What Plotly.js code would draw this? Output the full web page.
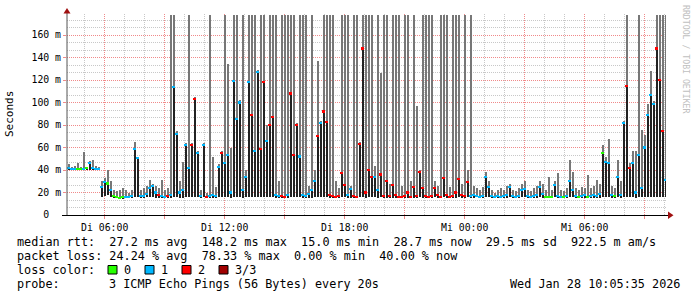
<!DOCTYPE html>
<html><head><meta charset="utf-8">
<script src="https://cdn.plot.ly/plotly-3.0.1.min.js"></script>
<style>html,body{margin:0;padding:0;background:#fff;overflow:hidden}#chart{width:697px;height:297px}</style>
</head><body><div id="chart"></div>
<script>
// loss legend
const lossLabels = ['0', '1', '2', '3/3'];
const lossColors = ['#26ff00', '#00b8ff', '#ff0000', '#a00000'];

// per-column ping values in ms (one column ≈ 9 min, starting Di 04:07)
const pingLow = [
40,40,40,40,40,40,40,40,40,40, 40,16,17,18,16,15,15,14,14,15,
15,15,16,16,15,15,16,16,16,15, 15,15,15,15,15,16,16,15,15,16,
16,16,16,16,15,16,15,15,15,15, 16,16,16,16,15,16,16,16,15,16,
16,16,16,16,16,16,16,16,16,15, 15,15,15,15,16,16,16,16,15,15,
15,15,16,16,16,16,16,15,15,15, 15,16,16,15,15,15,15,16,16,15,
16,16,16,15,16,15,15,15,15,15, 15,15,15,15,15,15,15,16,15,15,
15,15,16,15,15,16,15,15,15,15, 16,15,15,16,15,15,16,15,15,16,
16,15,15,15,15,15,15,16,15,15, 15,16,16,15,15,15,15,16,15,15,
15,15,16,15,15,15,15,16,16,15, 15,15,15,15,15,15,15,15,16,16,
16,15,15,16,15,16,16,16,16,15, 16,16,16,16,16,16,16,16,16,16
];
const pingMedian = [
42,41,41,41,41,41,42,46,42,41, 41,25,29,28,22,17,16,15,16,16,
16,17,59,51,17,17,19,24,26,20, 18,17,16,17,18,114,72,20,22,62,
42,62,103,55,17,62,16,17,18,17, 43,55,46,53,20,119,85,100,22,34,
118,89,57,127,59,118,66,80,87,18, 17,17,16,18,108,53,80,52,18,17,
19,22,30,70,82,92,83,18,17,16, 17,37,27,18,23,17,16,63,148,20,
40,34,34,22,36,17,30,17,27,18, 16,16,17,20,16,25,17,38,24,17,
16,17,24,18,16,33,18,16,17,20, 32,18,17,29,17,18,17,16,17,34,
25,17,16,17,16,17,18,25,17,16, 17,22,23,17,16,17,18,25,19,16,
16,16,27,17,16,16,17,30,22,17, 16,17,18,16,17,18,17,19,55,47,
46,18,17,34,18,82,115,42,46,20, 53,24,60,89,107,99,148,120,75,31
];
const pingHigh = [
45,43,44,46,43,56,43,48,49,44, 43,30,33,40,30,22,21,22,24,22,
20,22,65,52,22,24,26,31,28,26, 24,31,22,24,178,178,75,30,47,64,
178,64,105,57,22,64,20,178,52,25, 45,57,178,134,60,178,178,102,178,40,
178,178,178,129,178,178,80,178,178,178, 30,178,178,178,178,178,82,178,178,178,
26,178,40,137,84,178,178,178,178,30, 24,178,178,178,26,178,178,65,178,178,
178,178,44,178,126,178,178,28,178,178, 178,26,178,178,30,178,97,40,178,178,
178,178,30,26,178,178,178,25,178,178, 178,28,178,40,178,26,24,22,25,38,
30,22,20,22,24,22,26,28,22,21, 24,28,30,22,21,24,26,30,28,22,
34,22,30,37,22,21,24,49,38,24, 22,25,24,36,24,26,31,28,62,52,
68,26,24,49,30,84,178,46,57,57, 178,76,71,99,128,101,178,178,178,178
];
const pingLoss = [
1,1,1,0,0,1,0,1,1,1, 1,1,1,0,1,0,0,0,0,1,
1,1,1,1,1,1,1,1,1,1, 2,1,1,2,1,1,1,1,1,1,
1,2,2,1,1,1,2,1,1,1, 1,2,1,1,1,1,1,1,1,1,
1,2,1,1,2,2,1,2,2,1, 1,2,2,1,2,2,2,1,1,1,
1,1,1,2,1,2,2,2,2,2, 2,2,2,1,1,2,2,2,2,2,
2,2,1,1,2,2,2,2,2,2, 2,2,2,2,2,2,2,2,2,2,
2,2,2,2,2,2,2,2,2,2, 2,2,2,2,1,1,1,1,1,1,
1,1,1,1,1,1,1,1,1,1, 1,1,1,1,1,1,1,1,1,0,
0,0,1,1,1,0,1,1,1,1, 0,1,1,0,1,1,1,1,0,1,
1,1,0,1,1,1,2,2,1,1, 1,1,1,1,1,1,2,2,2,1
];

// time axis (hours since Di 00:00)
const startHour = 4.115;
const stepHours = 0.15;
const endHour = 34.065;
const xTickHours = [6, 9, 12, 15, 18, 21, 24, 27, 30, 33];
const xTickLabels = ['Di 06:00', '', 'Di 12:00', '', 'Di 18:00', '', 'Mi 00:00', '', 'Mi 06:00', ''];
const yTickValues = [0, 20, 40, 60, 80, 100, 120, 140, 160];
const yTickLabels = ['0  ', '20 m', '40 m', '60 m', '80 m', '100 m', '120 m', '140 m', '160 m'];
const yMax = 178.667;

// legend texts
const statsRtt = 'median rtt:  27.2 ms avg  148.2 ms max  15.0 ms min  28.7 ms now  29.5 ms sd  922.5 m am/s';
const statsLoss = 'packet loss: 24.24 % avg  78.33 % max  0.00 % min  40.00 % now';
const lossTitle = 'loss color:';
const probeLabel = 'probe:';
const probeText = '3 ICMP Echo Pings (56 Bytes) every 20s';
const stampText = 'Wed Jan 28 10:05:35 2026';

const nb = s => s.replace(/ /g, '\u00a0');
const W = 697, H = 297, L = 67, R = 666, T = 14, B = 215;
const px = X => (X - L) / (R - L);
const py = Y => (B - Y) / (B - T);

// column centres, nudged a quarter pixel so 2 px bars land on whole pixels
const hoursPerPx = (endHour - startHour) / (R - L);
const xs = pingMedian.map((_, i) => startHour + (i + 0.5) * stepHours + 0.25 * hoursPerPx);
const mono = 'DejaVu Sans Mono, monospace';
const barW = 2 * hoursPerPx;

const smoke = {
  type: 'bar', x: xs, base: pingLow, y: pingHigh.map((h, i) => h - pingLow[i]),
  width: barW, marker: {color: '#777777', line: {width: 0}}, hoverinfo: 'skip'
};
const dark = {
  type: 'bar', x: xs, base: pingLow, y: pingMedian.map((m, i) => m - pingLow[i]),
  width: barW, marker: {color: '#222222', line: {width: 0}}, hoverinfo: 'skip'
};
const med = {
  type: 'bar', x: xs, base: pingMedian.map(m => m - 0.9), y: pingMedian.map(() => 1.8),
  width: stepHours, marker: {color: pingLoss.map(l => lossColors[l]), line: {width: 0}}, hoverinfo: 'skip'
};

const ann = [];
const txt = (X, Y, s, o) => ann.push(Object.assign({
  xref: 'paper', yref: 'paper', x: px(X), y: py(Y), text: nb(s), showarrow: false,
  xanchor: 'left', yanchor: 'middle', borderpad: 0,
  font: {family: mono, size: 11.8, color: '#000'}
}, o || {}));
txt(16, 241.5, statsRtt);
txt(16, 255.5, statsLoss);
txt(16, 269.5, lossTitle);
txt(16, 283.5, probeLabel);
txt(108, 283.5, probeText);
txt(681, 283.5, stampText, {xanchor: 'right'});
const boxX = [108, 145, 182, 219];
lossLabels.forEach((lab, k) => txt(boxX[k] + 15, 269.5, lab));
txt(10, 114, 'Seconds', {xanchor: 'center', textangle: -90, font: {family: mono, size: 11, color: '#000'}});
txt(686, 59, 'RRDTOOL / TOBI OETIKER', {xanchor: 'center', textangle: 90, font: {family: mono, size: 8.2, color: '#c0c0c0'}});

const shapes = [];
lossLabels.forEach((lab, k) => shapes.push({
  type: 'rect', xref: 'paper', yref: 'paper', x0: px(boxX[k]), x1: px(boxX[k] + 9),
  y0: py(265.5), y1: py(274), fillcolor: lossColors[k], line: {color: '#000', width: 1}
}));
shapes.push({type: 'line', xref: 'paper', yref: 'paper', x0: px(67), x1: px(67), y0: py(215), y1: py(12), line: {color: '#555', width: 1}});
shapes.push({type: 'line', xref: 'paper', yref: 'paper', x0: px(62), x1: px(668), y0: py(215.5), y1: py(215.5), line: {color: '#000', width: 1}});
shapes.push({type: 'path', xref: 'paper', yref: 'paper', fillcolor: '#a01010', line: {width: 0},
  path: `M ${px(63.5)} ${py(13.5)} L ${px(70.5)} ${py(13.5)} L ${px(67)} ${py(8)} Z`});
shapes.push({type: 'path', xref: 'paper', yref: 'paper', fillcolor: '#a01010', line: {width: 0},
  path: `M ${px(668)} ${py(211.5)} L ${px(668)} ${py(219)} L ${px(673.5)} ${py(215.25)} Z`});

const layout = {
  width: W, height: H, margin: {l: L, r: W - R, t: T, b: H - B, pad: 0},
  paper_bgcolor: '#fff', plot_bgcolor: '#fff', showlegend: false,
  barmode: 'overlay', bargap: 0,
  xaxis: {
    range: [startHour, endHour], tickmode: 'array', tickvals: xTickHours, ticktext: xTickLabels,
    showgrid: true, gridcolor: '#f08a8a', griddash: '1px,1px', gridwidth: 1,
    minor: {dtick: 1, tick0: 0, showgrid: true, gridcolor: '#c8c8c8', griddash: '1px,1px', ticks: ''},
    ticks: 'outside', ticklen: 3, tickcolor: '#f08a8a', zeroline: false, showline: false,
    tickfont: {family: mono, size: 9.8, color: '#000'}, fixedrange: true
  },
  yaxis: {
    range: [0, yMax], tickmode: 'array', tickvals: yTickValues, ticktext: yTickLabels.map(nb),
    showgrid: true, gridcolor: '#f08a8a', griddash: '1px,1px', gridwidth: 1,
    minor: {dtick: 20 / 3, tick0: 0, showgrid: true, gridcolor: '#c8c8c8', griddash: '1px,1px', ticks: ''},
    ticks: 'outside', ticklen: 3, tickcolor: '#f08a8a', zeroline: false, showline: false,
    tickfont: {family: mono, size: 9.8, color: '#000'}, fixedrange: true
  },
  annotations: ann, shapes: shapes
};
Plotly.newPlot('chart', [smoke, dark, med], layout, {staticPlot: true, displayModeBar: false});
</script></body></html>
